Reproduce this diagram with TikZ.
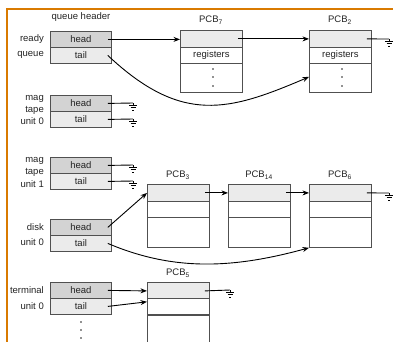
\documentclass[tikz,border=0pt]{standalone}
\usepackage{fontspec}
\setmainfont{Liberation Sans}
\usetikzlibrary{arrows.meta}

\definecolor{frameorange}{RGB}{217,122,0}
\definecolor{boxline}{RGB}{80,80,80}
\definecolor{headgray}{RGB}{211,211,211}
\definecolor{tailgray}{RGB}{235,235,235}
\definecolor{inkgray}{RGB}{35,35,35}

\tikzset{
  x=1pt, y=-1pt,
  txt/.style={font=\fontsize{9.5}{11}\selectfont, text=inkgray, inner sep=0pt},
  qhead/.style={draw=boxline, line width=0.8pt, fill=headgray, minimum width=61pt, minimum height=16pt,
                inner sep=0pt, anchor=north west, txt},
  qtail/.style={qhead, fill=tailgray},
  pcbtop/.style={draw=boxline, line width=0.8pt, fill=tailgray, minimum width=62pt, minimum height=17pt,
                 inner sep=0pt, anchor=north west, txt},
  pcbrow/.style={pcbtop, fill=white, minimum height=16pt},
  pcbrest/.style={pcbtop, fill=white, minimum height=#1},
  side/.style={txt, anchor=east},
  ptr/.style={draw=black, line width=0.9pt, -{Stealth[length=6.5pt,width=5pt]}},
  wire/.style={draw=black, line width=0.9pt},
  gnd/.pic={
    \draw[line width=0.8pt] (0,0) -- (0,2);
    \draw[line width=0.8pt] (-4,2) -- (4,2) (-2.5,4.5) -- (2.5,4.5) (-1,7) -- (1,7);
  },
  dot/.style={circle, fill=inkgray, inner sep=0pt, minimum size=1.8pt},
}

\begin{document}
\begin{tikzpicture}
\useasboundingbox (0,0) rectangle (393,341);

% frame lines along the left and top
\draw[frameorange, line width=2.6pt] (7,345) -- (7,9) -- (396,9);

% ---------- queue headers ----------
\node[txt] (qh) at (81,17) {queue header};

\node[qhead] (rh) at (50,31) {head};
\node[qtail] (rt) at (50,47) {tail};
\node[side] (rl1) at (44,39) {ready};
\node[side] (rl2) at (44,55) {queue};

\node[qhead] (m0h) at (50,95) {head};
\node[qtail] (m0t) at (50,111) {tail};
\node[side] (m0l1) at (44,99) {mag};
\node[side] (m0l2) at (44,110) {tape};
\node[side] (m0l3) at (44,121) {unit 0};

\node[qhead] (m1h) at (50,157) {head};
\node[qtail] (m1t) at (50,173) {tail};
\node[side] (m1l1) at (44,161) {mag};
\node[side] (m1l2) at (44,172) {tape};
\node[side] (m1l3) at (44,184) {unit 1};

\node[qhead] (dh) at (50,219) {head};
\node[qtail] (dt) at (50,235) {tail};
\node[side] (dl1) at (44,227) {disk};
\node[side] (dl2) at (44,242) {unit 0};

\node[qhead] (th) at (50,282) {head};
\node[qtail] (tt) at (50,298) {tail};
\node[side] (tl1) at (44,290) {terminal};
\node[side] (tl2) at (44,306) {unit 0};

\node[dot] (td1) at (81,322) {};
\node[dot] (td2) at (81,330) {};
\node[dot] (td3) at (81,338) {};

% ---------- PCBs of the ready queue ----------
\node[txt] (p7l) at (211,20) {PCB\textsubscript{7}};
\node[pcbtop] (p7a) at (180,30) {};
\node[pcbrow] (p7b) at (180,47) {registers};
\node[pcbrest=29pt] (p7c) at (180,63) {};
\node[dot] at (213,69) {};
\node[dot] at (213,77) {};
\node[dot] at (213,86) {};

\node[txt] (p2l) at (340,20) {PCB\textsubscript{2}};
\node[pcbtop] (p2a) at (309,30) {};
\node[pcbrow] (p2b) at (309,47) {registers};
\node[pcbrest=29pt] (p2c) at (309,63) {};
\node[dot] at (342,69) {};
\node[dot] at (342,77) {};
\node[dot] at (342,86) {};

% ---------- PCBs of the disk queue ----------
\node[txt] (p3l) at (178,175) {PCB\textsubscript{3}};
\node[pcbtop] (p3a) at (147,184) {};
\node[pcbrow] (p3b) at (147,201) {};
\node[pcbrest=30pt] (p3c) at (147,217) {};

\node[txt] (p14l) at (259,175) {PCB\textsubscript{14}};
\node[pcbtop] (p14a) at (228,184) {};
\node[pcbrow] (p14b) at (228,201) {};
\node[pcbrest=30pt] (p14c) at (228,217) {};

\node[txt] (p6l) at (340,175) {PCB\textsubscript{6}};
\node[pcbtop] (p6a) at (309,184) {};
\node[pcbrow] (p6b) at (309,201) {};
\node[pcbrest=30pt] (p6c) at (309,217) {};

% ---------- PCB of the terminal queue (runs off the bottom) ----------
\node[txt] (p5l) at (178,273) {PCB\textsubscript{5}};
\node[pcbtop] (p5a) at (147,282) {};
\node[pcbrow] (p5b) at (147,298) {};
\node[pcbrest=60pt] (p5c) at (147,315) {};

% ---------- ground ends ----------
\coordinate (g2) at (389,39);
\coordinate (gm0h) at (133,103);
\coordinate (gm0t) at (133,119);
\coordinate (gm1h) at (133,165);
\coordinate (gm1t) at (133,181);
\coordinate (g6) at (389,193);
\coordinate (g5) at (230,290);

% ---------- ready queue links ----------
\draw[ptr] ([xshift=-4pt]rh.east) -- (rh.east -| p7a.west);
\draw[ptr] ([xshift=-5pt]p7a.east) -- (p7a.east -| p2a.west);
\draw[wire] ([xshift=-5pt]p2a.east) -- (g2);
\pic at (g2) {gnd};
\draw[ptr] ([xshift=-4pt]rt.east) .. controls (182,125) and (229,111) .. ([yshift=1pt]p2c.west);

% ---------- mag tape queues (empty) ----------
\draw[wire] ([xshift=-4pt]m0h.east) -- (gm0h);
\pic at (gm0h) {gnd};
\draw[wire] ([xshift=-4pt]m0t.east) -- (gm0t);
\pic at (gm0t) {gnd};
\draw[wire] ([xshift=-4pt]m1h.east) -- (gm1h);
\pic at (gm1h) {gnd};
\draw[wire] ([xshift=-4pt]m1t.east) -- (gm1t);
\pic at (gm1t) {gnd};

% ---------- disk queue links ----------
\draw[ptr] ([xshift=-4pt]dh.east) -- (p3a.west);
\draw[ptr] ([xshift=-5pt]p3a.east) -- (p14a.west);
\draw[ptr] ([xshift=-5pt]p14a.east) -- (p6a.west);
\draw[wire] ([xshift=-5pt]p6a.east) -- (g6);
\pic at (g6) {gnd};
\draw[ptr] ([xshift=-4pt]dt.east) .. controls (175,272) and (235,268) .. (p6c.south west);

% ---------- terminal queue links ----------
\draw[ptr] ([xshift=-4pt]th.east) -- (p5a.west);
\draw[ptr] ([xshift=-4pt]tt.east) -- ([yshift=-2pt]p5a.south west);
\draw[wire] ([xshift=-5pt]p5a.east) -- (g5);
\pic at (g5) {gnd};
\end{tikzpicture}
\end{document}
